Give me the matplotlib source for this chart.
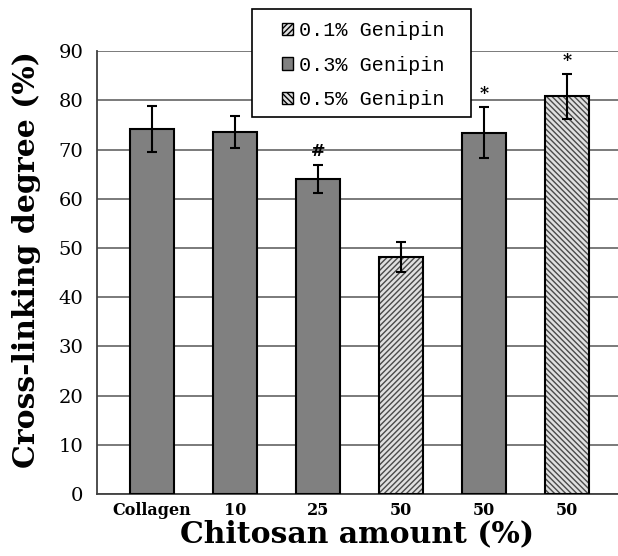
import matplotlib
matplotlib.use("Agg")
import matplotlib.pyplot as plt
from matplotlib.patches import Patch, Rectangle
import numpy as np

categories = ["Collagen", "10", "25", "50", "50", "50"]
values = [74.2, 73.6, 64.0, 48.2, 73.4, 80.8]
errors = [4.6, 3.2, 2.8, 3.1, 5.2, 4.6]
groups = ["0.3% Genipin", "0.3% Genipin", "0.3% Genipin", "0.1% Genipin", "0.3% Genipin", "0.5% Genipin"]
marks = ["", "", "#", "", "*", "*"]
legend_labels = ["0.1% Genipin", "0.3% Genipin", "0.5% Genipin"]
yticks = [0, 10, 20, 30, 40, 50, 60, 70, 80, 90]

styles = {
    "0.1% Genipin": dict(face="#e0e0e0", hatch="//////", hcolor="#4a4a4a"),
    "0.3% Genipin": dict(face="#808080", hatch=None, hcolor="#808080"),
    "0.5% Genipin": dict(face="#e0e0e0", hatch="\\\\\\\\\\\\", hcolor="#4a4a4a"),
}

fig = plt.figure(figsize=(6.18, 5.56), dpi=100)
ax = fig.add_axes([0.157, 0.1115, 0.843, 0.7965])

x = np.arange(len(categories))
w = 0.53
for xi, v, g in zip(x, values, groups):
    s = styles[g]
    ax.bar(xi, v, w, color=s["face"], hatch=s["hatch"], edgecolor=s["hcolor"],
           linewidth=0, zorder=2)
    ax.bar(xi, v, w, fill=False, edgecolor="black", linewidth=1.5, zorder=3)

ax.errorbar(x, values, yerr=errors, fmt="none", ecolor="black", elinewidth=1.5,
            capsize=3.5, capthick=1.5, zorder=4)

for xi, v, e, m in zip(x, values, errors, marks):
    if m:
        ax.text(xi, v + e + 1.0, m, ha="center", va="bottom",
                fontsize=12.5, fontweight="bold", family="DejaVu Serif", zorder=5)

ax.set_xlim(-0.66, 5.61)
ax.set_ylim(0, 90)
ax.set_yticks(yticks)
ax.set_yticklabels([str(t) for t in yticks], family="DejaVu Serif", fontsize=14)
ax.set_xticks(x)
ax.set_xticklabels(categories, family="DejaVu Serif", fontsize=11.5, fontweight="bold")
ax.tick_params(axis="both", length=0)
ax.tick_params(axis="y", pad=10)
ax.tick_params(axis="x", pad=6)

ax.yaxis.grid(True, color="#707070", linewidth=1.3, zorder=0)
ax.set_axisbelow(True)
for sp in ["top", "right"]:
    ax.spines[sp].set_visible(False)
ax.spines["left"].set_color("#404040")
ax.spines["bottom"].set_color("#404040")
ax.spines["left"].set_linewidth(1.3)
ax.spines["bottom"].set_linewidth(1.3)

ax.set_xlabel("Chitosan amount (%)", family="DejaVu Serif", fontsize=21.5,
              fontweight="bold", labelpad=0)
ax.set_ylabel("Cross-linking degree (%)", family="DejaVu Serif", fontsize=21.5,
              fontweight="bold")
ax.yaxis.set_label_coords(-0.108, 0.53)

# legend frame (white box that partly rises above the axes)
fig.patches.append(Rectangle((0.408, 0.7896), 0.354, 0.194, transform=fig.transFigure,
                             facecolor="white", edgecolor="black", linewidth=1.2,
                             zorder=10))

handles = []
for lab in legend_labels:
    s = styles[lab]
    handles.append(Patch(facecolor=s["face"], hatch=s["hatch"], edgecolor="black",
                         linewidth=1.0))
leg = fig.legend(handles, legend_labels, loc="upper left",
                 bbox_to_anchor=(0.456, 0.962), bbox_transform=fig.transFigure,
                 borderaxespad=0, prop={"family": "Liberation Mono", "size": 14.5},
                 handlelength=0.55, handleheight=0.55, handletextpad=0.3,
                 labelspacing=0.77, frameon=False, borderpad=0)
leg.set_zorder(11)

fig.savefig("out.png", dpi=100)
